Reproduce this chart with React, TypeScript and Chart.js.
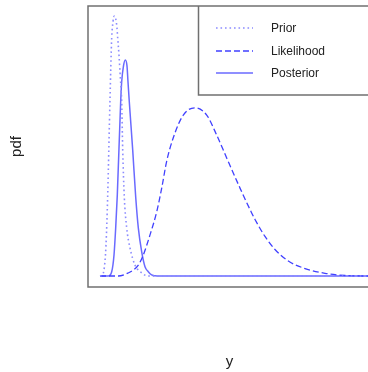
import React, { useEffect, useRef } from "react";
import { Chart, registerables } from "chart.js";

Chart.register(...registerables);

// Prior (dotted)
const priorX = [0, 0.0077, 0.0143, 0.02, 0.0257, 0.0333, 0.039, 0.0433, 0.0477, 0.0557, 0.059, 0.0633, 0.0667, 0.07, 0.0723, 0.0757, 0.081, 0.089, 0.1, 0.1167, 0.139, 0.161, 0.2, 0.9];
const priorY = [0, 0.004, 0.031, 0.119, 0.312, 0.677, 0.915, 0.977, 1.0, 0.965, 0.915, 0.85, 0.785, 0.723, 0.669, 0.485, 0.304, 0.185, 0.108, 0.042, 0.012, 0, 0, 0];

// Likelihood (dashed)
const likeX = [0, 0.061, 0.094, 0.111, 0.1277, 0.142, 0.1667, 0.189, 0.2057, 0.222, 0.244, 0.2777, 0.3167, 0.3557, 0.389, 0.4223, 0.4667, 0.4833, 0.5, 0.5167, 0.55, 0.5833, 0.6277, 0.6833, 0.75, 0.8167, 0.8833, 0.9333];
const likeY = [0, 0, 0.0115, 0.023, 0.042, 0.074, 0.158, 0.247, 0.338, 0.44, 0.531, 0.619, 0.647, 0.619, 0.542, 0.454, 0.338, 0.296, 0.256, 0.2173, 0.152, 0.102, 0.0577, 0.0288, 0.0104, 0.002, 0, 0];

// Posterior (solid)
const postX = [0, 0.0277, 0.039, 0.0467, 0.0523, 0.0577, 0.069, 0.0723, 0.0783, 0.0843, 0.09, 0.0933, 0.0977, 0.109, 0.119, 0.1277, 0.139, 0.15, 0.161, 0.172, 0.1833, 0.2, 0.9];
const postY = [0, 0, 0.0165, 0.081, 0.185, 0.312, 0.673, 0.747, 0.808, 0.831, 0.808, 0.747, 0.669, 0.485, 0.304, 0.185, 0.093, 0.036, 0.0165, 0.004, 0.001, 0, 0];

const seriesLabels = ["Prior", "Likelihood", "Posterior"];
const xTitle = "y";
const yTitle = "pdf";

const toPoints = (xs: number[], ys: number[]) => xs.map((x, i) => ({ x, y: ys[i] }));

export default function App() {
  const ref = useRef<HTMLCanvasElement | null>(null);

  useEffect(() => {
    if (!ref.current) return;
    const styles = [
      { color: "#8c8cff", width: 1.6, dash: [1.6, 2.9] },
      { color: "#4040ff", width: 1.3, dash: [6, 3] },
      { color: "#6a6aff", width: 1.5, dash: [] as number[] },
    ];
    const framePlugin = {
      id: "framePlugin",
      afterDraw(chart: any) {
        const ctx = chart.ctx;
        const a = chart.chartArea;
        ctx.save();
        ctx.strokeStyle = "#707070";
        ctx.lineWidth = 1.5;
        ctx.setLineDash([]);
        ctx.beginPath();
        ctx.moveTo(a.right + 5, a.top);
        ctx.lineTo(a.left, a.top);
        ctx.lineTo(a.left, a.bottom);
        ctx.lineTo(a.right + 5, a.bottom);
        ctx.stroke();
        // legend box
        const lx = 198.5, ly = a.top, lb = 95;
        ctx.beginPath();
        ctx.moveTo(lx, ly);
        ctx.lineTo(lx, lb);
        ctx.lineTo(a.right + 5, lb);
        ctx.stroke();
        const rows = [28, 51, 73];
        chart.data.datasets.forEach((ds: any, i: number) => {
          ctx.strokeStyle = ds.borderColor;
          ctx.lineWidth = ds.borderWidth;
          ctx.setLineDash(ds.borderDash || []);
          ctx.beginPath();
          ctx.moveTo(216, rows[i]);
          ctx.lineTo(253, rows[i]);
          ctx.stroke();
          ctx.setLineDash([]);
          ctx.fillStyle = "#222";
          ctx.font = "12px 'Liberation Sans', Arial, sans-serif";
          ctx.textAlign = "left";
          ctx.textBaseline = "middle";
          ctx.fillText(ds.label, 271, rows[i] + 0.5);
        });
        // axis titles
        ctx.fillStyle = "#222";
        ctx.font = "15px 'Liberation Sans', Arial, sans-serif";
        ctx.textAlign = "center";
        ctx.textBaseline = "middle";
        ctx.fillText(xTitle, 229.5, 362);
        ctx.save();
        ctx.translate(16.5, (a.top + a.bottom) / 2);
        ctx.rotate(-Math.PI / 2);
        ctx.fillText(yTitle, 0, 0);
        ctx.restore();
        ctx.restore();
      },
    };
    const seriesData = [toPoints(priorX, priorY), toPoints(likeX, likeY), toPoints(postX, postY)];
    const chart = new Chart(ref.current, {
      type: "line",
      data: {
        datasets: seriesData.map((d, i) => ({
          label: seriesLabels[i],
          data: d,
          borderColor: styles[i].color,
          borderWidth: styles[i].width,
          borderDash: styles[i].dash,
          pointRadius: 0,
          fill: false,
          cubicInterpolationMode: "monotone" as const,
        })),
      },
      options: {
        animation: false,
        responsive: false,
        events: [],
        layout: { padding: { left: 88, top: 6, right: 0, bottom: 85 } },
        plugins: { legend: { display: false }, tooltip: { enabled: false } },
        scales: {
          x: { type: "linear", min: -0.04, max: -0.04 + 280 / 300, display: false },
          y: { type: "linear", min: -11 / 260, max: 1 + 10 / 260, display: false },
        },
      },
      plugins: [framePlugin],
    });
    return () => chart.destroy();
  }, []);

  return (
    <div style={{ position: "fixed", left: 0, top: 0, width: 368, height: 372, background: "#fff" }}>
      <canvas ref={ref} width={368} height={372} style={{ display: "block" }} />
    </div>
  );
}
